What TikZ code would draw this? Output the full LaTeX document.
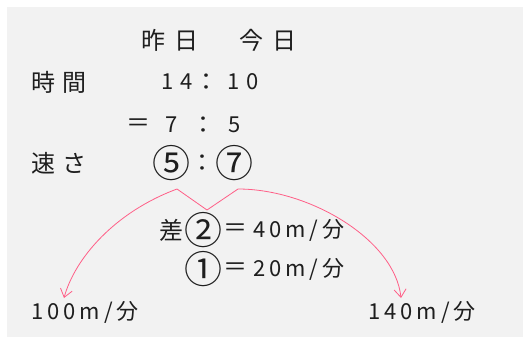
\documentclass[tikz,border=0pt]{standalone}
\usepackage{fontspec}
\usepackage{xcolor}
\usepackage{tikz}
\usetikzlibrary{arrows.meta}
\newfontfamily\jpfont{Noto Sans CJK JP}
\definecolor{pagegray}{RGB}{242,242,242}
\definecolor{inkpink}{RGB}{255,95,135}
\definecolor{inkblack}{RGB}{30,30,30}
\tikzset{
 txt/.style={text=inkblack,inner sep=0pt,font=\jpfont\fontsize{24}{28}\selectfont},
 spaced/.style={txt,font=\jpfont\fontsize{24}{28}\selectfont\addfontfeature{LetterSpace=#1}},
 digits/.style={txt,font=\jpfont\fontsize{22}{26}\selectfont\addfontfeature{LetterSpace=#1}},
 circnum/.style={txt,font=\jpfont\fontsize{38}{42}\selectfont},
 arcline/.style={inkpink,line width=.8pt}}

\begin{document}
\begin{tikzpicture}[x=1pt,y=-1pt,>={Straight Barb[length=8pt,width=12pt]}]
 \useasboundingbox (0,0) rectangle (523,338);
 \fill[pagegray] (7,7) rectangle (523,337);

 % yesterday and today
 \node[spaced=38] (yest) at (170,40) {昨日};
 \node[spaced=38] (today) at (268,40) {今日};

 % time ratio, then the speed ratio is the reverse
 \node[spaced=30] (timelbl) at (59,82) {時間};
 \node[digits=28] (t14) at (177,82) {14};
 \node[txt] (tcolon) at (206,82) {：};
 \node[digits=28] (t10) at (243,82) {10};

 \node[txt] (eq) at (138,125) {＝};
 \node[digits=0] (r7) at (172,125) {7};
 \node[txt] (rcolon) at (203,125) {：};
 \node[digits=0] (r5) at (235,125) {5};

 \node[spaced=30] (speedlbl) at (59,163) {速さ};
 \node[circnum] (s5) at (171,163) {⑤};
 \node[txt] (scolon) at (202,163) {：};
 \node[circnum] (s7) at (234,163) {⑦};

 % the difference of two parts
 \node[txt] (diff) at (171,230) {差};
 \node[circnum] (d2) at (203,230) {②};
 \node[txt] (deq) at (235,230) {＝};
 \node[digits=18,anchor=west] (d40) at (253,230) {40m/分};

 \node[circnum] (u1) at (203,269) {①};
 \node[txt] (ueq) at (235,269) {＝};
 \node[digits=18,anchor=west] (u20) at (253,269) {20m/分};

 \node[digits=18,anchor=west] (v100) at (31,312) {100m/分};
 \node[digits=18,anchor=west] (v140) at (368,312) {140m/分};

 % zigzag and the two arrows down to the speeds
 \coordinate (zl) at (177,189);
 \coordinate (zm) at (207,210);
 \coordinate (zr) at (238,189);
 \coordinate (tipl) at (64,298);
 \coordinate (tipr) at (401,298);
 \draw[arcline] (zl) -- (zm) -- (zr);
 \draw[arcline,->] (zl) .. controls (115,212) and (75,258) .. (tipl);
 \draw[arcline,->] (zr) .. controls (310,189) and (395,240) .. (tipr);
\end{tikzpicture}
\end{document}
